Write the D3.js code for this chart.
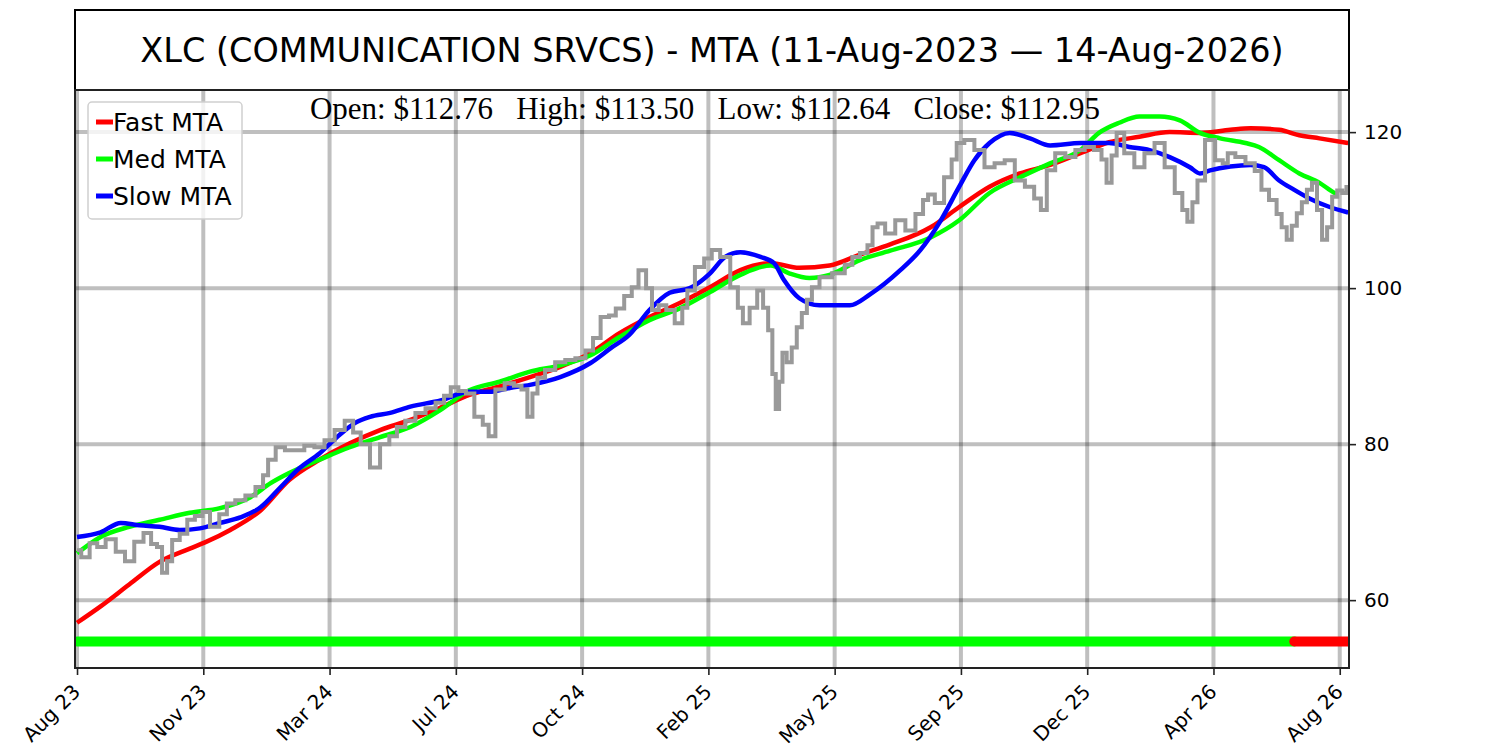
<!DOCTYPE html>
<html>
<head>
<meta charset="utf-8">
<script src="https://cdn.jsdelivr.net/npm/d3@7"></script>
<style>
  body { margin: 0; background: #fff; }
  text { font-family: "DejaVu Sans", sans-serif; }
  .ohlc { font-family: "Liberation Serif", "DejaVu Serif", serif; white-space: pre; }
</style>
</head>
<body>
<div id="vis"></div>
<script>
// chart values
// x is the trading-day index since 11-Aug-2023
let titleText = 'XLC (COMMUNICATION SRVCS) - MTA (11-Aug-2023 \u2014 14-Aug-2026)';
let ohlcText = 'Open: $112.76   High: $113.50   Low: $112.64   Close: $112.95';

let tickDays = [0, 75, 150, 225, 300, 375, 450, 525, 600, 675, 750];
let tickLabels = ['Aug 23', 'Nov 23', 'Mar 24', 'Jul 24', 'Oct 24', 'Feb 25',
  'May 25', 'Sep 25', 'Dec 25', 'Apr 26', 'Aug 26'];
let yTicks = [60, 80, 100, 120];

// closing price [day, value]
let price = [
  [0, 66.4], [5, 65.5], [10, 67.3], [14, 66.8], [20, 67.8], [26, 66.2], [31, 65], [37, 67.5],
  [42, 68.6], [46, 67.2], [49, 66.8], [52, 63.5], [55, 65], [58, 67.7], [64, 68.5], [67, 70.3],
  [73, 70.8], [76, 71.3], [82, 69.4], [87, 71], [91, 72.4], [97, 72.8], [103, 73.4], [109, 74.5],
  [112, 76], [115, 78], [121, 79.6], [126, 79.2], [132, 79.2], [138, 79.8], [144, 79.6], [150, 80.5],
  [156, 81.8], [162, 83], [166, 81.5], [171, 80], [177, 77], [183, 80], [188, 81], [192, 82.2],
  [198, 83], [204, 84], [210, 84.6], [216, 85.3], [220, 86.2], [224, 87.3], [229, 86.8], [233, 86.5],
  [239, 83.5], [243, 82.5], [246, 81], [251, 87], [257, 87.8], [262, 87.5], [266, 87], [269, 83.5],
  [272, 86.5], [275, 88.5], [281, 89.5], [287, 90.5], [293, 90.8], [299, 91], [305, 92], [308, 93.6],
  [314, 96.3], [318, 96.5], [322, 97.4], [328, 99], [331, 100.1], [336, 102.3], [340, 100], [343, 97.2],
  [348, 97.8], [352, 97.2], [358, 95.5], [361, 97.5], [364, 99.7], [370, 102.7], [375, 103.8], [379, 104.9],
  [385, 104], [391, 100.1], [394, 97.5], [397, 95.5], [402, 97.5], [406, 99.7], [409, 97.5], [412, 94.6],
  [414, 89], [416, 84.5], [418, 88], [420, 91.7], [423, 90.5], [426, 92.4], [429, 95], [432, 96.8],
  [435, 98.5], [438, 100.1], [444, 101.4], [453, 101.9], [459, 103], [462, 104], [468, 104.5], [471, 105.5],
  [474, 107.8], [477, 108.3], [483, 107], [489, 108.7], [495, 107.4], [501, 109.5], [504, 111.3], [507, 112],
  [512, 110.9], [518, 114.2], [521, 116.5], [524, 118.6], [530, 119], [536, 117.7], [542, 115.5], [548, 116],
  [554, 116.4], [560, 113.8], [566, 113], [571, 111.5], [574, 110], [578, 115.1], [584, 117.3], [590, 116.8],
  [596, 117.7], [601, 118.1], [607, 117.7], [610, 116.5], [613, 113.5], [616, 117], [619, 119.9], [625, 117.3],
  [631, 115.5], [637, 117.3], [643, 118.6], [649, 115.5], [655, 112.2], [658, 110], [661, 108.5], [664, 111],
  [667, 113.8], [673, 119], [679, 116.4], [682, 116], [685, 117.3], [691, 116.8], [697, 116], [702, 115],
  [705, 112.6], [711, 111.3], [714, 109.5], [717, 107.8], [720, 106.2], [723, 108], [726, 109.6], [729, 111],
  [732, 112.6], [735, 113.5], [738, 110], [741, 106.2], [744, 107.8], [747, 111.7], [750, 112.5], [753, 112.2],
  [755, 112.95]
];

let fastMta = [
  [0, 57.1], [14, 59.2], [31, 62], [49, 64.9], [67, 66.6], [76, 67.4], [91, 69], [109, 71.5],
  [126, 75.4], [144, 78], [162, 80.1], [180, 81.8], [198, 83.1], [216, 84.7], [233, 86.3], [251, 87.4],
  [269, 88.6], [287, 89.9], [305, 91.7], [322, 94.2], [340, 96.3], [358, 98.1], [376, 100.1], [394, 102.3],
  [412, 103.2], [429, 102.6], [447, 102.9], [465, 104.3], [483, 105.6], [507, 107.8], [524, 110.4], [542, 113],
  [560, 114.7], [578, 115.8], [596, 117.3], [613, 118.7], [631, 119.4], [649, 120], [667, 119.9], [685, 120.3],
  [697, 120.5], [714, 120.3], [726, 119.6], [738, 119.2], [755, 118.6]
];

let medMta = [
  [0, 66], [14, 68.1], [31, 69.4], [49, 70.3], [67, 71.2], [85, 71.8], [103, 73.2], [115, 75],
  [126, 76.3], [144, 78], [162, 79.6], [180, 80.9], [198, 82.2], [216, 84.4], [233, 86.9], [251, 88],
  [269, 89.3], [287, 90.1], [305, 91.4], [322, 93.7], [340, 95.9], [358, 97.4], [376, 99.5], [394, 101.7],
  [412, 102.9], [423, 101.9], [435, 101.3], [447, 101.7], [465, 103.6], [483, 104.8], [507, 106.5], [524, 108.7],
  [542, 112.2], [560, 114.2], [578, 116], [596, 117.7], [607, 119.9], [619, 121.2], [631, 122], [643, 122],
  [655, 121.5], [667, 119.9], [679, 119.2], [694, 118.6], [702, 118.1], [714, 116.4], [726, 114.7], [738, 113.5],
  [747, 112.2], [749, 112]
];

let slowMta = [
  [0, 68.1], [14, 68.7], [26, 69.9], [37, 69.6], [49, 69.4], [61, 69], [73, 69.2], [85, 69.9],
  [97, 70.6], [109, 71.9], [121, 74.5], [132, 76.9], [144, 78.8], [156, 81.2], [165, 82.7], [174, 83.5],
  [186, 84], [198, 84.8], [216, 85.6], [233, 86.7], [245, 86.7], [257, 87.2], [269, 87.6], [287, 88.6],
  [305, 90.4], [317, 92.3], [328, 94], [340, 97.2], [352, 99.4], [364, 100], [376, 101.9], [385, 104],
  [394, 104.6], [406, 104], [414, 103.2], [420, 101], [429, 98.7], [441, 97.8], [459, 97.8], [471, 99.2],
  [489, 102.3], [501, 104.9], [512, 108.3], [524, 113], [533, 116.4], [542, 118.6], [554, 119.9], [566, 119.2],
  [578, 118.3], [596, 118.6], [613, 118.6], [625, 118.1], [637, 117.7], [649, 116.8], [661, 115.5], [667, 114.7],
  [673, 115.1], [685, 115.6], [697, 115.8], [705, 115.5], [714, 113.8], [723, 112.6], [732, 111.5], [744, 110.4],
  [755, 109.7]
];

// signal strip along the bottom: [startDay, endDay]
let signalRanges = [[0, 723], [723, 755]];
let signalColors = ['#00ff00', '#ff0000'];
let signalLevel = 54.7;

let legendNames = ['Fast MTA', 'Med MTA', 'Slow MTA'];
let legendColors = ['#ff0000', '#00ff00', '#0000ff'];

// layout
let width = 1500;
let height = 750;
let plot = { left: 75, right: 1349, top: 90, bottom: 668 };
let titleTop = 10;

let svg = d3.select('#vis').append('svg')
  .attr('width', width)
  .attr('height', height);

let x = d3.scaleLinear()
  .domain([-1.2, 755.5])
  .range([plot.left, plot.right]);

let y = d3.scaleLinear()
  .domain([51.3, 125.4])
  .range([plot.bottom, plot.top]);

// grid
let grid = svg.append('g').attr('class', 'grid');
grid.selectAll('.vgrid')
  .data(tickDays)
  .enter().append('line')
  .attr('x1', d => x(d)).attr('x2', d => x(d))
  .attr('y1', plot.top).attr('y2', plot.bottom)
  .attr('stroke', '#000').attr('stroke-opacity', 0.25).attr('stroke-width', 4);
grid.selectAll('.hgrid')
  .data(yTicks)
  .enter().append('line')
  .attr('x1', plot.left).attr('x2', plot.right)
  .attr('y1', d => y(d)).attr('y2', d => y(d))
  .attr('stroke', '#000').attr('stroke-opacity', 0.25).attr('stroke-width', 4);

// clip to plot area
svg.append('clipPath').attr('id', 'clip')
  .append('rect')
  .attr('x', plot.left).attr('y', plot.top)
  .attr('width', plot.right - plot.left).attr('height', plot.bottom - plot.top);

let marks = svg.append('g').attr('clip-path', 'url(#clip)');

// signal strip
marks.selectAll('.signal')
  .data(signalRanges)
  .enter().append('line')
  .attr('class', 'signal')
  .attr('x1', d => x(d[0])).attr('x2', d => x(d[1]))
  .attr('y1', y(signalLevel)).attr('y2', y(signalLevel))
  .attr('stroke', (d, i) => signalColors[i])
  .attr('stroke-width', 10)
  .attr('stroke-linecap', 'round');

// moving averages
let mtaLine = d3.line()
  .curve(d3.curveMonotoneX)
  .x(d => x(d[0]))
  .y(d => y(d[1]));

[fastMta, medMta, slowMta].forEach(function (series, i) {
  marks.append('path')
    .attr('d', mtaLine(series))
    .attr('fill', 'none')
    .attr('stroke', legendColors[i])
    .attr('stroke-width', 4.5)
    .attr('stroke-linejoin', 'round');
});

// price trace
let priceLine = d3.line()
  .curve(d3.curveStep)
  .x(d => x(d[0]))
  .y(d => y(d[1]));

marks.append('path')
  .attr('d', priceLine(price))
  .attr('fill', 'none')
  .attr('stroke', '#999999')
  .attr('stroke-width', 4);

// frame
svg.append('rect')
  .attr('x', plot.left).attr('y', titleTop)
  .attr('width', plot.right - plot.left).attr('height', plot.top - titleTop)
  .attr('fill', 'none').attr('stroke', '#000').attr('stroke-width', 2);
svg.append('rect')
  .attr('x', plot.left).attr('y', plot.top)
  .attr('width', plot.right - plot.left).attr('height', plot.bottom - plot.top)
  .attr('fill', 'none').attr('stroke', '#222').attr('stroke-width', 2);

svg.append('text')
  .attr('x', 712)
  .attr('y', 62)
  .attr('text-anchor', 'middle')
  .style('font-size', '33.5px')
  .text(titleText);

svg.append('text')
  .attr('class', 'ohlc')
  .attr('x', 705)
  .attr('y', 119)
  .attr('text-anchor', 'middle')
  .style('font-size', '31px')
  .text(ohlcText);

// right y axis
let yAxis = d3.axisRight(y)
  .tickValues(yTicks)
  .tickSize(7)
  .tickPadding(8)
  .tickFormat(d3.format('d'));
let yg = svg.append('g')
  .attr('transform', 'translate(' + plot.right + ',0)')
  .call(yAxis);
yg.select('.domain').remove();
yg.selectAll('line').attr('stroke', '#222').attr('stroke-width', 1.6);
yg.selectAll('text').style('font-size', '20px').attr('fill', '#000')
  .style('font-family', '"DejaVu Sans", sans-serif');

// bottom x axis
let xAxis = d3.axisBottom(x)
  .tickValues(tickDays)
  .tickSize(7)
  .tickFormat((d, i) => tickLabels[i]);
let xg = svg.append('g')
  .attr('transform', 'translate(0,' + plot.bottom + ')')
  .call(xAxis);
xg.select('.domain').remove();
xg.selectAll('line').attr('stroke', '#222').attr('stroke-width', 1.6);
xg.selectAll('text')
  .style('font-size', '20px')
  .style('font-family', '"DejaVu Sans", sans-serif')
  .attr('fill', '#000')
  .attr('text-anchor', 'end')
  .attr('dy', null)
  .attr('y', 0)
  .attr('transform', 'translate(4,25) rotate(-45)');

// legend
let legend = svg.append('g').attr('transform', 'translate(88,102)');
legend.append('rect')
  .attr('width', 154).attr('height', 117)
  .attr('rx', 4)
  .attr('fill', '#fff').attr('fill-opacity', 0.8)
  .attr('stroke', '#d0d0d0').attr('stroke-width', 1.5);
let items = legend.selectAll('.item')
  .data(legendNames)
  .enter().append('g')
  .attr('transform', (d, i) => 'translate(0,' + (20 + i * 37) + ')');
items.append('line')
  .attr('x1', 8).attr('x2', 25)
  .attr('stroke', (d, i) => legendColors[i])
  .attr('stroke-width', 5);
items.append('text')
  .attr('x', 25)
  .attr('y', 9)
  .style('font-size', '25px')
  .text(d => d);
</script>
</body>
</html>
